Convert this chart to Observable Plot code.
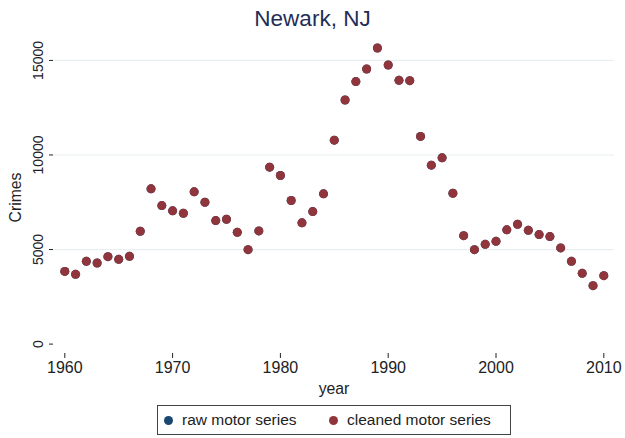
<!DOCTYPE html>
<html><head><meta charset="utf-8">
<script src="https://cdn.jsdelivr.net/npm/d3@7"></script>
<script src="https://cdn.jsdelivr.net/npm/@observablehq/plot@0.6"></script>
<style>
body{margin:0;background:#fff;font-family:"Liberation Sans",Arial,sans-serif;}
#wrap{position:relative;width:625px;height:438px;overflow:hidden;}
#chart{position:absolute;left:0;top:0;}
#title{position:absolute;left:0;top:6px;width:625px;text-align:center;font-size:22.5px;color:#1f2d57;line-height:26px;}
#legend{position:absolute;left:157px;top:405px;width:354px;height:30px;border:1px solid #444;box-sizing:border-box;font-size:15.5px;color:#222;background:#fff;}
.it{position:absolute;top:5px;line-height:18px;}
.dot{position:absolute;width:9px;height:9px;border-radius:50%;top:10px;}
</style></head>
<body>
<div id="wrap">
  <div id="chart"></div>
  <div id="title">Newark, NJ</div>
  <div id="legend">
    <span class="dot" style="left:6px;background:#1a476f"></span><span class="it" style="left:24px">raw motor series</span>
    <span class="dot" style="left:171px;background:#90353b"></span><span class="it" style="left:189px">cleaned motor series</span>
  </div>
</div>
<script>
const years = d3.range(1960, 2011);
const cleaned = [3845,3690,4375,4290,4625,4480,4640,5965,8210,7325,7045,6920,8050,7500,6530,6600,5910,4995,5985,9355,8915,7590,6410,7005,7945,10785,12905,13880,14545,15657,14760,13945,13930,10980,9460,9850,7975,5735,4995,5275,5435,6040,6335,6015,5790,5685,5085,4375,3740,3090,3620];
const raw = cleaned.slice();
const yTicks = [0,5000,10000,15000];
const xTicks = [1960,1970,1980,1990,2000,2010];
const series = ["raw motor series","cleaned motor series"];
const colors = ["#1a476f","#90353b"];

const rows = [];
years.forEach((yr,i)=>{ rows.push({year:yr, v:raw[i], s:series[0]}); });
years.forEach((yr,i)=>{ rows.push({year:yr, v:cleaned[i], s:series[1]}); });

const plot = Plot.plot({
  width: 625, height: 402,
  marginLeft: 53, marginRight: 11, marginTop: 41, marginBottom: 49,
  style: {fontFamily: '"Liberation Sans", Arial, sans-serif', fontSize: "14px", color: "#222", background: "transparent"},
  x: {domain: [1960, 2010], insetLeft: 11.3, insetRight: 10.7},
  y: {domain: [0, 16000], insetBottom: 9.4},
  color: {domain: series, range: colors},
  marks: [
    Plot.ruleY(yTicks.filter(d=>d>0), {stroke: "#e8eff1", strokeWidth: 1.2}),
    Plot.axisY({ticks: yTicks, tickSize: 4, tickRotate: -90, tickPadding: 7, fontSize: 14, tickFormat: d=>String(d), label: null}),
    Plot.axisY({ticks: [], tickSize: 0, label: "Crimes", labelAnchor: "center", labelArrow: "none", labelOffset: 44, fontSize: 15.8}),
    Plot.axisX({ticks: xTicks, tickSize: 5, tickPadding: 3, fontSize: 16, tickFormat: d=>String(d), label: null}),
    Plot.axisX({ticks: [], tickSize: 0, label: "year", labelAnchor: "center", labelArrow: "none", labelOffset: 40, fontSize: 15.8}),
    Plot.dot(rows, {x: "year", y: "v", fill: "s", r: 4.5, stroke: "none"})
  ]
});
document.getElementById("chart").appendChild(plot);
</script>
</body></html>
